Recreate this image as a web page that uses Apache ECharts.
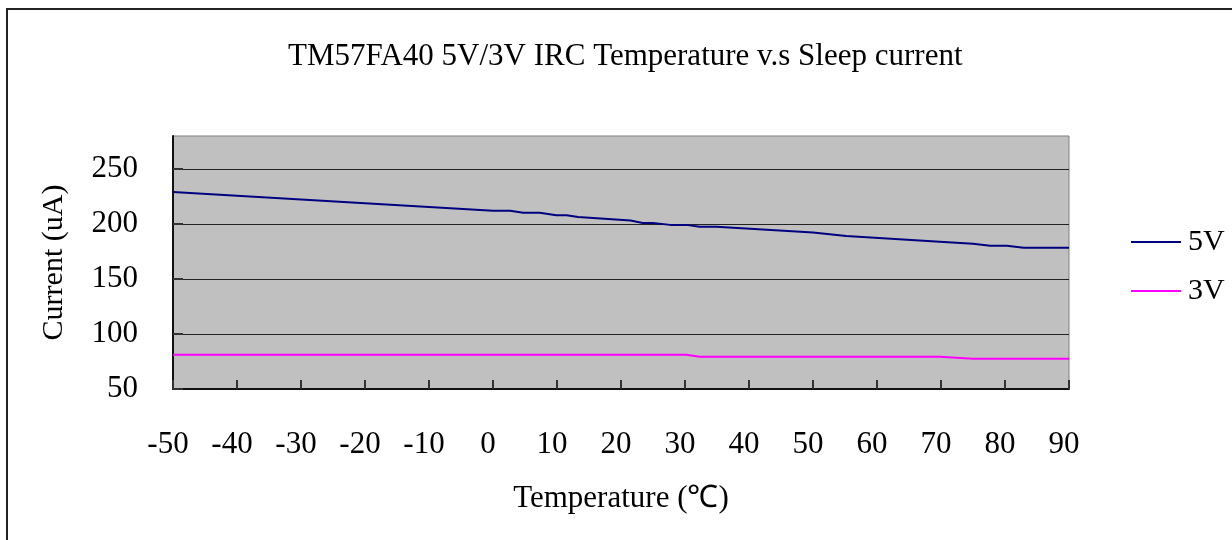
<!DOCTYPE html>
<html>
<head>
<meta charset="utf-8">
<script src="https://cdn.jsdelivr.net/npm/echarts@6/dist/echarts.min.js"></script>
<style>
  html, body { margin: 0; padding: 0; background: #fff; }
  #frame { position: absolute; left: 6px; top: 8px; width: 1240px; height: 560px;
           border-left: 2px solid #222; border-top: 2px solid #222; box-sizing: border-box; }
  #chart { position: absolute; left: 0; top: 0; width: 1232px; height: 540px; }
</style>
</head>
<body>
<div id="frame"></div>
<div id="chart"></div>
<script>
const titleText = 'TM57FA40 5V/3V IRC Temperature v.s Sleep current';
const xAxisName = 'Temperature (\u2103)';
const yAxisName = 'Current (uA)';
const seriesNames = ['5V', '3V'];

const temps5V = [-50, 0, 2.7, 4.7, 7.3, 9.9, 11.5, 13.3, 21.5, 23.4, 25, 27.7, 30.2, 32.3, 34.9, 50, 55.2, 69.8, 75, 77.7, 80.3, 82.9, 85, 90];
const current5V = [229, 212, 212, 210.2, 210.2, 208, 208, 206.3, 203.2, 201, 201, 199.2, 199.2, 197.4, 197.4, 192.3, 189, 183.8, 182, 180.2, 180.2, 178.4, 178.4, 178.4];

const temps3V = [-50, 30.2, 32.3, 69.8, 75, 90];
const current3V = [81.1, 81.1, 79.4, 79.4, 77.5, 77.5];

const xMin = -50, xMax = 90, xStep = 10;
const yMin = 50, yMax = 280, yStep = 50;

const font = 'Liberation Serif';
const chart = echarts.init(document.getElementById('chart'), null, { renderer: 'canvas' });

function pairs(xs, ys) { return xs.map((x, i) => [x, ys[i]]); }

chart.setOption({
  animation: false,
  backgroundColor: 'transparent',
  title: {
    text: titleText,
    left: 283,
    top: 36,
    textStyle: { fontFamily: font, fontWeight: 'normal', fontSize: 31, color: '#000' }
  },
  legend: {
    orient: 'vertical',
    left: 1125,
    top: 222,
    itemWidth: 50,
    itemHeight: 14,
    itemGap: 19,
    data: seriesNames,
    itemStyle: { opacity: 0 },
    textStyle: { fontFamily: font, fontSize: 30, color: '#000', padding: [0, 0, 0, 2] }
  },
  grid: {
    left: 173, right: 163, top: 136, bottom: 151,
    show: true, backgroundColor: '#c0c0c0', borderColor: '#808080', borderWidth: 1
  },
  xAxis: {
    type: 'value',
    min: xMin, max: xMax, interval: xStep,
    name: xAxisName,
    nameLocation: 'middle',
    nameGap: 94,
    nameTextStyle: { fontFamily: font, fontSize: 31, color: '#000' },
    axisLine: { show: true, onZero: false, lineStyle: { color: '#111', width: 2 } },
    axisTick: { show: true, inside: true, length: 9, lineStyle: { color: '#333', width: 2 } },
    axisLabel: { fontFamily: font, fontSize: 31, color: '#000', margin: 40, padding: [0, 10, 0, 0] },
    splitLine: { show: false }
  },
  yAxis: {
    type: 'value',
    min: yMin, max: yMax, interval: yStep,
    name: yAxisName,
    nameLocation: 'middle',
    nameGap: 104,
    nameTextStyle: { fontFamily: font, fontSize: 30, color: '#000' },
    axisLine: { show: true, onZero: false, lineStyle: { color: '#111', width: 2 } },
    axisTick: { show: true, inside: true, length: 10, lineStyle: { color: '#333', width: 2 } },
    axisLabel: { fontFamily: font, fontSize: 31, color: '#000', margin: 35, showMaxLabel: false,
                 formatter: v => (v % yStep === 0 ? String(v) : '') },
    splitLine: { show: true, showMinLine: false, showMaxLine: false, lineStyle: { color: '#222', width: 1 } }
  },
  series: [
    {
      name: seriesNames[0], type: 'line', data: pairs(temps5V, current5V),
      showSymbol: false, symbol: 'none',
      lineStyle: { color: '#000080', width: 2 }, itemStyle: { color: '#000080' }
    },
    {
      name: seriesNames[1], type: 'line', data: pairs(temps3V, current3V),
      showSymbol: false, symbol: 'none',
      lineStyle: { color: '#ff00ff', width: 2 }, itemStyle: { color: '#ff00ff' }
    }
  ]
});
</script>
</body>
</html>
